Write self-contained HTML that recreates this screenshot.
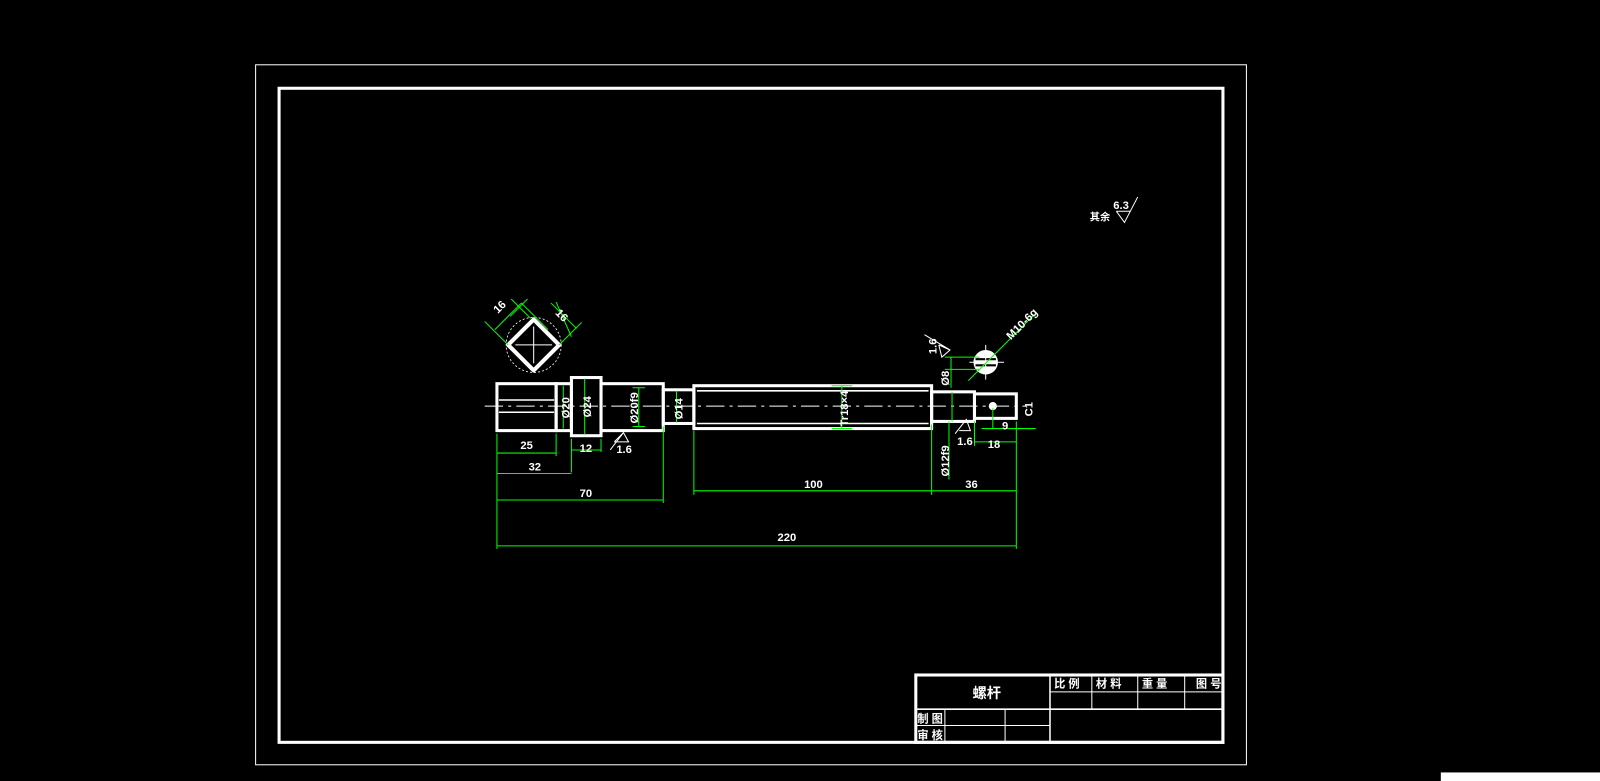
<!DOCTYPE html>
<html><head><meta charset="utf-8"><style>
html,body{margin:0;padding:0;background:#000;width:1600px;height:781px;overflow:hidden}
svg{display:block}
text{font-family:"Liberation Sans","Noto Sans CJK SC",sans-serif;font-weight:bold}
</style></head><body>
<svg width="1600" height="781" viewBox="0 0 1600 781" xmlns="http://www.w3.org/2000/svg">
<rect x="0" y="0" width="1600" height="781" fill="#000"/>
<g transform="scale(1.0204)">
<rect x="1412" y="757" width="188" height="24" fill="#fff"/>
<rect x="250.5" y="63.5" width="971" height="686" fill="none" stroke="#fff" stroke-width="1"/>
<rect x="273.5" y="86.5" width="925" height="641" fill="none" stroke="#fff" stroke-width="3"/>

<g stroke="#fff" fill="none">
<rect x="897.5" y="661.5" width="301" height="66" stroke-width="3"/>
<line x1="897" y1="695" x2="1199" y2="695" stroke-width="1.5"/>
<line x1="1029" y1="678" x2="1199" y2="678" stroke-width="1"/>
<line x1="897" y1="711" x2="1029" y2="711" stroke-width="1"/>
<line x1="1029" y1="661" x2="1029" y2="728" stroke-width="1.5"/>
<line x1="1070" y1="661" x2="1070" y2="695" stroke-width="1"/>
<line x1="1115" y1="661" x2="1115" y2="695" stroke-width="1"/>
<line x1="1161" y1="661" x2="1161" y2="695" stroke-width="1"/>
<line x1="926" y1="695" x2="926" y2="728" stroke-width="1"/>
<line x1="985" y1="695" x2="985" y2="728" stroke-width="1"/>
</g>
<g fill="#fff" font-size="11">
<text x="953" y="684" font-size="14">螺杆</text>
<text x="1033" y="674">比 例</text>
<text x="1074" y="674">材 料</text>
<text x="1119" y="674">重 量</text>
<text x="1172" y="674">图 号</text>
<text x="899" y="708">制 图</text>
<text x="899" y="724">审 核</text>
</g>

<text x="1068" y="216" fill="#fff" font-size="10">其余</text>
<text x="1091" y="205" fill="#fff" font-size="11">6.3</text>
<path d="M1094 207 L1102 218 L1115 193 M1094 207 L1108 207" stroke="#fff" fill="none"/>

<line x1="475" y1="398" x2="1005" y2="398" stroke="#fff" stroke-width="1" stroke-dasharray="18,5,3,5"/>

<g stroke="#fff" stroke-width="3" fill="none">
<rect x="487" y="376" width="58" height="46"/>
<rect x="545" y="376" width="15" height="46"/>
<rect x="560" y="370" width="29" height="57"/>
<rect x="589" y="376" width="61" height="46"/>
<rect x="650" y="382" width="30" height="33"/>
<rect x="680" y="378" width="233" height="42"/>
<rect x="913" y="384" width="42" height="29"/>
<rect x="955" y="386" width="41" height="24"/>
</g>
<g stroke="#fff" stroke-width="1.5">
<line x1="489" y1="392" x2="543" y2="392"/>
<line x1="489" y1="404" x2="543" y2="404"/>
<line x1="683" y1="383" x2="910" y2="383"/>
<line x1="683" y1="415" x2="910" y2="415"/>
</g>
<circle cx="973" cy="398" r="4" fill="#fff"/>

<path d="M523 313 L548 338 L523 363 L498 338 Z" stroke="#fff" stroke-width="4" fill="none" stroke-linejoin="round"/>
<circle cx="523" cy="338" r="27" stroke="#fff" stroke-width="0.8" fill="none" stroke-dasharray="2,2"/>
<g stroke="#fff" stroke-width="1"><line x1="505" y1="338" x2="541" y2="338"/><line x1="523" y1="320" x2="523" y2="356"/></g>
<g stroke="#0f0" stroke-width="1" fill="none">
<line x1="485" y1="323" x2="511" y2="297"/><line x1="511" y1="297" x2="537" y2="323"/>
<line x1="501" y1="293" x2="520" y2="312"/><line x1="540" y1="297" x2="565" y2="322"/>
<line x1="498" y1="338" x2="475" y2="315"/><line x1="548" y1="338" x2="570" y2="316"/>
<line x1="517" y1="293" x2="500" y2="310"/><line x1="545" y1="296" x2="560" y2="330"/>
</g>
<text x="483" y="304" fill="#fff" font-size="11" transform="rotate(-45 490 300)">16</text>
<text x="545" y="312" fill="#fff" font-size="11" transform="rotate(45 550 308)">16</text>

<circle cx="966" cy="355" r="12" fill="#fff"/>
<g stroke="#000" stroke-width="2"><line x1="956" y1="352" x2="976" y2="352"/><line x1="956" y1="358" x2="976" y2="358"/></g>
<g stroke="#fff" stroke-width="1"><line x1="966" y1="338" x2="966" y2="372"/><line x1="950" y1="355" x2="984" y2="355"/></g>
<line x1="949" y1="373" x2="1015" y2="307" stroke="#0f0" stroke-width="1"/>
<text x="981" y="330" fill="#fff" font-size="11" transform="rotate(-45 990 320)">M10-6g</text>

<g stroke="#0f0" stroke-width="1" fill="none">
<line x1="487" y1="425" x2="487" y2="538"/>
<line x1="545" y1="425" x2="545" y2="447"/>
<line x1="560" y1="430" x2="560" y2="463"/>
<line x1="589" y1="430" x2="589" y2="443"/>
<line x1="650" y1="418" x2="650" y2="493"/>
<line x1="680" y1="422" x2="680" y2="485"/>
<line x1="913" y1="416" x2="913" y2="485"/>
<line x1="996" y1="413" x2="996" y2="538"/>
<line x1="955" y1="413" x2="955" y2="437"/>
<line x1="487" y1="444" x2="545" y2="444"/>
<line x1="560" y1="441" x2="589" y2="441"/>
<line x1="487" y1="464" x2="560" y2="464"/>
<line x1="487" y1="490" x2="650" y2="490"/>
<line x1="680" y1="481" x2="913" y2="481"/>
<line x1="913" y1="481" x2="996" y2="481"/>
<line x1="487" y1="535" x2="996" y2="535"/>
<line x1="955" y1="433" x2="996" y2="433"/>
<line x1="962" y1="420" x2="1015" y2="420"/>
<line x1="973" y1="400" x2="973" y2="420"/>
<line x1="552" y1="378" x2="552" y2="420"/>
<line x1="573" y1="371" x2="573" y2="426"/>
<line x1="626" y1="380" x2="626" y2="418"/>
<line x1="620" y1="380" x2="632" y2="380"/><line x1="620" y1="418" x2="632" y2="418"/>
<line x1="663" y1="383" x2="663" y2="414"/>
<line x1="825" y1="378" x2="825" y2="420"/>
<line x1="815" y1="378" x2="835" y2="378"/><line x1="815" y1="420" x2="835" y2="420"/>
<line x1="933" y1="384" x2="933" y2="413"/>
<line x1="932" y1="350" x2="932" y2="380"/>
<line x1="926" y1="350" x2="960" y2="350"/><line x1="926" y1="362" x2="960" y2="362"/>
<line x1="930" y1="413" x2="930" y2="470"/>
</g>
<g fill="#fff" font-size="11">
<text x="510" y="440">25</text>
<text x="568" y="443">12</text>
<text x="518" y="461">32</text>
<text x="568" y="487">70</text>
<text x="788" y="478">100</text>
<text x="946" y="478">36</text>
<text x="762" y="530">220</text>
<text x="968" y="439">18</text>
<text x="982" y="421">9</text>
<text x="604" y="444">1.6</text>
<text x="938" y="436">1.6</text>
<text transform="translate(558 410) rotate(-90)">Ø20</text>
<text transform="translate(579 409) rotate(-90)">Ø24</text>
<text transform="translate(625 415) rotate(-90)">Ø20f9</text>
<text transform="translate(669 411) rotate(-90)">Ø14</text>
<text transform="translate(831 418) rotate(-90)">Tr18×4</text>
<text transform="translate(930 378) rotate(-90)">Ø8</text>
<text transform="translate(930 467) rotate(-90)">Ø12f9</text>
<text transform="translate(918 347) rotate(-90)">1.6</text>
<text transform="translate(1012 408) rotate(-90)">C1</text>
</g>
<g stroke="#fff" stroke-width="1" fill="none">
<path d="M602 433 L611 424 L616 433 L602 433 M598 441 L611 424"/>
<path d="M936 425 L947 411 L951 422 L940 422"/>
<path d="M920 338 L931 343 L923 350 L920 338 M906 328 L931 343"/>
</g>
</g>
</svg>
</body></html>
